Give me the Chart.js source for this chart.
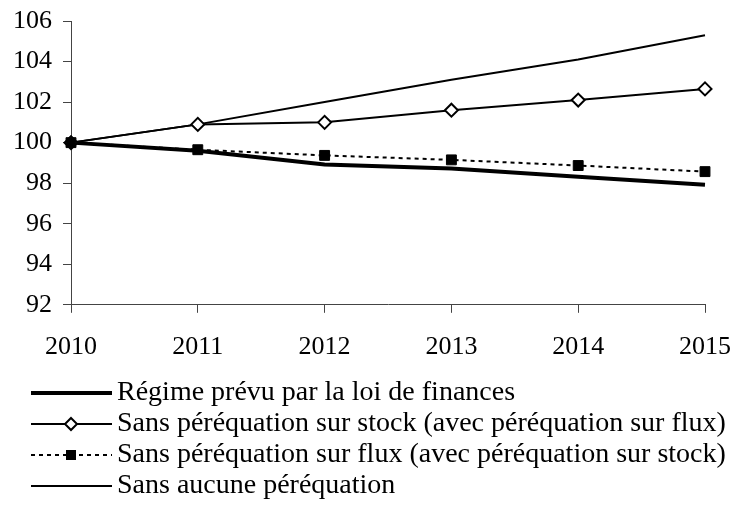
<!DOCTYPE html>
<html>
<head>
<meta charset="utf-8">
<script src="https://cdn.jsdelivr.net/npm/chart.js"></script>
<style>
  body { margin: 0; background: #fff; }
  canvas { display: block; }
</style>
</head>
<body>
<canvas id="chart" width="736" height="506"></canvas>
<script>
const years = ['2010', '2011', '2012', '2013', '2014', '2015']

// indice base 100 en 2010
const regimePrevu = [100, 99.6, 98.92, 98.72, 98.32, 97.92]
const sansStock = [100, 100.9, 101.0, 101.6, 102.1, 102.65]
const sansFlux = [100, 99.65, 99.37, 99.15, 98.87, 98.57]
const sansAucune = [100, 100.9, 102.0, 103.1, 104.1, 105.3]

const seriesNames = [
    'Régime prévu par la loi de finances',
    'Sans péréquation sur stock (avec péréquation sur flux)',
    'Sans péréquation sur flux (avec péréquation sur stock)',
    'Sans aucune péréquation'
]

const yMin = 92
const yMax = 106
const yStep = 2

const axisColor = '#444'
const fontFamily = "'Liberation Serif', 'Times New Roman', serif"

// petits dessins de légende (ligne + marqueur), comme dans Excel
function swatch(kind) {
    const c = document.createElement('canvas')
    c.width = 118
    c.height = 20
    const g = c.getContext('2d')
    const x1 = 37, x2 = 118, mid = 77, y = 10
    g.strokeStyle = '#000'
    g.lineWidth = kind === 'regime' ? 4 : 2
    if (kind === 'flux') g.setLineDash([4, 4])
    g.beginPath()
    g.moveTo(x1, y)
    g.lineTo(x2, y)
    g.stroke()
    g.setLineDash([])
    if (kind === 'stock') {
        g.beginPath()
        g.moveTo(mid, y - 6)
        g.lineTo(mid + 6, y)
        g.lineTo(mid, y + 6)
        g.lineTo(mid - 6, y)
        g.closePath()
        g.fillStyle = '#fff'
        g.fill()
        g.lineWidth = 2
        g.stroke()
    }
    if (kind === 'flux') {
        g.fillStyle = '#000'
        g.fillRect(mid - 5, y - 5, 10, 10)
    }
    return c
}

const swatches = [swatch('regime'), swatch('stock'), swatch('flux'), swatch('aucune')]

const ctx = document.getElementById('chart').getContext('2d')

const chart = new Chart(ctx, {
    type: 'line',
    data: {
        labels: years,
        datasets: [{
            label: seriesNames[0],
            data: regimePrevu,
            borderColor: '#000',
            borderWidth: 4,
            pointRadius: 0,
            order: 4
        }, {
            label: seriesNames[1],
            data: sansStock,
            borderColor: '#000',
            borderWidth: 2,
            pointStyle: 'rectRot',
            pointRadius: 6.5,
            pointBorderWidth: 2,
            pointBackgroundColor: '#fff',
            pointBorderColor: '#000',
            order: 2
        }, {
            label: seriesNames[2],
            data: sansFlux,
            borderColor: '#000',
            borderWidth: 2,
            borderDash: [4, 4],
            pointStyle: 'rect',
            pointRadius: 7,
            pointBorderWidth: 1,
            pointBackgroundColor: '#000',
            pointBorderColor: '#000',
            order: 1
        }, {
            label: seriesNames[3],
            data: sansAucune,
            borderColor: '#000',
            borderWidth: 2,
            pointRadius: 0,
            order: 3
        }]
    },
    options: {
        responsive: false,
        animation: false,
        events: [],
        layout: {
            padding: { top: 21, right: 0, left: 0, bottom: -4 }
        },
        elements: {
            line: { tension: 0, fill: false }
        },
        scales: {
            x: {
                type: 'category',
                offset: false,
                grid: { drawOnChartArea: false, drawTicks: true, tickLength: 8, color: axisColor },
                border: { display: true, color: axisColor, width: 1 },
                ticks: {
                    color: '#000',
                    font: { family: fontFamily, size: 26 },
                    padding: 19,
                    maxRotation: 0
                },
                afterFit: (scale) => {
                    scale.height += -6
                    scale.paddingLeft = 0
                    scale.paddingRight = 31
                }
            },
            y: {
                min: yMin,
                max: yMax,
                grid: { drawOnChartArea: false, drawTicks: true, tickLength: 8, color: axisColor },
                border: { display: true, color: axisColor, width: 1 },
                ticks: {
                    stepSize: yStep,
                    color: '#000',
                    font: { family: fontFamily, size: 26 },
                    padding: 11
                },
                afterFit: (scale) => {
                    scale.width = 71
                    scale.paddingTop = 0
                    scale.paddingBottom = 0
                }
            }
        },
        plugins: {
            tooltip: { enabled: false },
            legend: {
                position: 'bottom',
                align: 'start',
                labels: {
                    usePointStyle: true,
                    pointStyleWidth: 100,
                    padding: 3,
                    color: '#000',
                    font: { family: fontFamily, size: 28 },
                    sort: (a, b) => a.datasetIndex - b.datasetIndex,
                    generateLabels: (chart) => {
                        const items = Chart.defaults.plugins.legend.labels.generateLabels(chart)
                        items.forEach(item => { item.pointStyle = swatches[item.datasetIndex] })
                        return items
                    }
                }
            }
        }
    }
})
</script>
</body>
</html>
